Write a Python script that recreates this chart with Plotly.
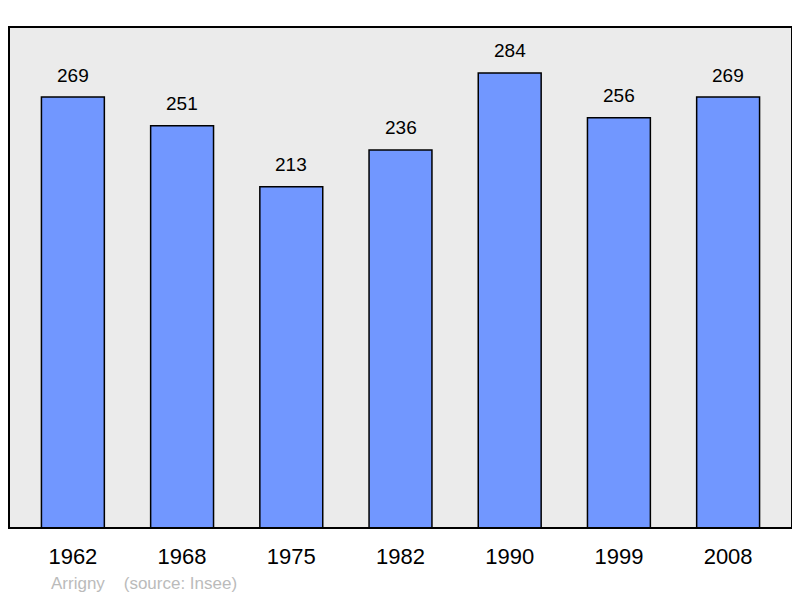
import plotly.graph_objects as go

years = ["1962", "1968", "1975", "1982", "1990", "1999", "2008"]
population = [269, 251, 213, 236, 284, 256, 269]
place = "Arrigny"
source_note = "(source: Insee)"

xpos = list(range(len(years)))
FONT = "Liberation Sans, Arial, sans-serif"

fig = go.Figure()
fig.add_trace(go.Bar(
    x=xpos, y=population, width=0.576,
    marker=dict(color="#7197ff", line=dict(color="#000000", width=1.5)),
    hovertext=years, hoverinfo="text+y",
))
for xi, v in zip(xpos, population):
    fig.add_annotation(x=xi, y=v, xref="x", yref="y", text=str(v), showarrow=False,
                       yshift=22, font=dict(family=FONT, size=19, color="#000"))

fig.add_shape(type="rect", xref="paper", yref="paper", x0=0, y0=0, x1=1, y1=1,
              line=dict(color="#000000", width=2), layer="above")

fig.add_annotation(xref="paper", yref="paper", x=(49 - 9) / 783, y=-55 / 501,
                   xanchor="left", yanchor="middle", showarrow=False,
                   text=place + "    " + source_note,
                   font=dict(family=FONT, size=17, color="#bbbbbb"))

fig.update_layout(
    width=792, height=590,
    margin=dict(l=1, r=8, t=19, b=70, pad=0),
    paper_bgcolor="#ffffff", plot_bgcolor="#ebebeb",
    showlegend=False,
    xaxis=dict(range=[-0.585, 6.585], showgrid=False, zeroline=False,
               tickvals=xpos, ticktext=years,
               ticks="outside", ticklen=9, tickcolor="rgba(0,0,0,0)",
               tickfont=dict(family=FONT, size=22, color="#000")),
    yaxis=dict(range=[0, 312.7], showgrid=False, zeroline=False, showticklabels=False),
)
fig.write_html("out.html")
